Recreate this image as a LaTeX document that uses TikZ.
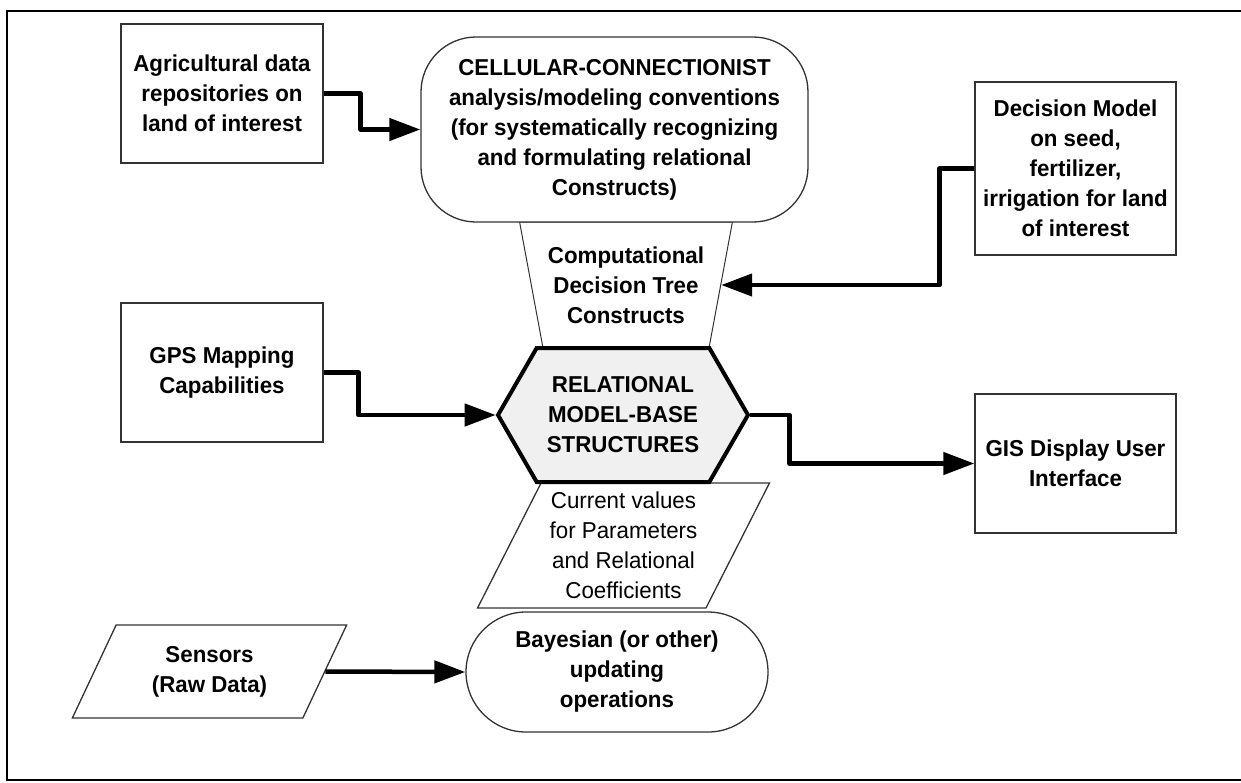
\documentclass[tikz,border=0pt]{standalone}
\usepackage{fontspec}
\setmainfont{Liberation Sans}[FakeStretch=0.97]
\usetikzlibrary{arrows.meta,shapes.geometric,shapes.symbols,shapes.misc}

\begin{document}
\begin{tikzpicture}[x=1pt,y=-1pt,>={Triangle[length=31pt,width=22pt]},
  every node/.style={font=\fontsize{23}{30}\selectfont\bfseries}]
\tikzstyle{box}=[draw=black!80,line width=1.3pt,align=center,inner sep=0pt,minimum width=202pt,minimum height=139pt]
\tikzstyle{slanted}=[draw=black!80,line width=1.3pt,align=center,inner sep=0pt,trapezium,trapezium left angle=62,trapezium right angle=118,trapezium stretches=true]
\tikzstyle{flow}=[->,line width=4.5pt,line join=round]
\useasboundingbox (0,0) rectangle (1241,782);
\draw[line width=2pt] (7,11) rectangle (1270,780);
% left column
\node[box] (agri) at (222,93.5) {Agricultural data\\repositories on\\land of interest};
\node[box] (gps) at (222,372.5) {GPS Mapping\\Capabilities};
\node[slanted,minimum width=275pt,minimum height=93pt] (sensors) at (209.5,671.5) {Sensors\\(Raw Data)};
% middle column
\node[trapezium,trapezium angle=74,trapezium stretches=true,shape border rotate=180,draw=black!80,line width=1pt,minimum width=213pt,minimum height=126pt,inner sep=0pt,align=center] (ctree) at (626,285) {Computational\\Decision Tree\\Constructs};
\node[slanted,font=\fontsize{23}{30}\selectfont,minimum width=293pt,minimum height=125pt,fill=white] (current) at (623.5,545.5) {Current values\\for Parameters\\and Relational\\Coefficients};
\node[draw=black!80,line width=1.3pt,fill=white,rounded corners=55pt,minimum width=387pt,minimum height=185pt,inner sep=0pt,align=center] (cellular) at (614.5,129.5) {CELLULAR-CONNECTIONIST\\analysis/modeling conventions\\(for systematically recognizing\\and formulating relational\\Constructs)};
\node[signal,signal to=east and west,signal pointer angle=120,draw,line width=4pt,fill=black!6,minimum width=250pt,minimum height=134pt,inner sep=0pt,align=center] (relmodel) at (623,415) {RELATIONAL\\MODEL-BASE\\STRUCTURES};
\node[rounded rectangle,draw=black!80,line width=1.3pt,minimum width=302pt,minimum height=120pt,inner sep=0pt,align=center] (bayes) at (617,672) {Bayesian (or other)\\updating\\operations};
% right column
\node[box,minimum width=201pt,minimum height=173pt] (decision) at (1075.5,168.5) {Decision Model\\on seed,\\fertilizer,\\irrigation for land\\of interest};
\node[box,minimum width=201pt] (gis) at (1075.5,463.5) {GIS Display User\\Interface};
% connectors
\draw[flow] (agri.east) -- ++(37,0) |- (cellular.west);
\draw[flow] (gps.east) -- ++(35,0) |- (relmodel.180);
\draw[flow] (decision.west) -- ++(-35,0) |- (ctree.0);
\draw[flow] (relmodel.0) -- ++(39,0) |- (gis.west);
\draw[flow] (sensors.0) -- (bayes.west);
\end{tikzpicture}
\end{document}
